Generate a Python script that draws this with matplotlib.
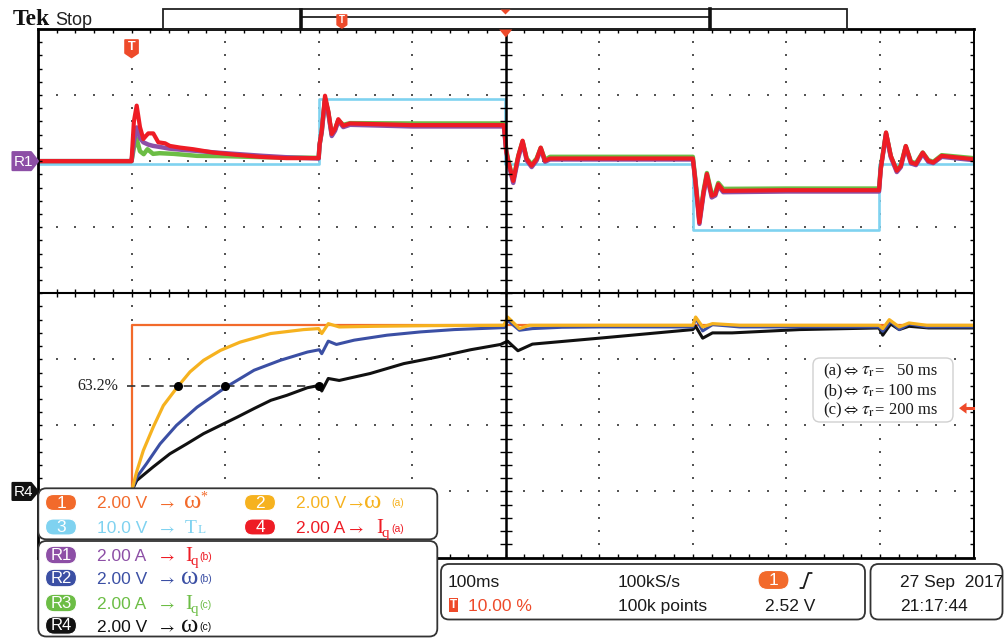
import numpy as np
import matplotlib
matplotlib.use("Agg")
import matplotlib.pyplot as plt
from matplotlib.patches import FancyBboxPatch, Polygon

plt.rcParams['font.family'] = ['Liberation Sans', 'DejaVu Sans']
plt.rcParams['mathtext.fontset'] = 'stix'
UI = ['Liberation Sans', 'DejaVu Sans']
SERIF = ['Liberation Serif', 'DejaVu Serif']

# ---------------- acquisition settings ----------------
TIME_DIV = 100.0                  # ms / div
TRIG_PCT = 10.0                   # trigger position in % of record
T0 = -TRIG_PCT / 100 * 10 * TIME_DIV
T1 = T0 + 10 * TIME_DIV
IQ_SCALE, IQ_POS = 2.0, 2.0       # A/div, position (div)
TL_SCALE, TL_POS = 10.0, 1.96     # V/div
W_SCALE, W_POS = 2.0, -3.0        # V/div
TRIG_LEVEL = 2.52                 # V (channel 1)

# ---------------- load torque T_L (ch3) ----------------
tl_t = [-100, 200.5, 200.5, 399, 399, 600.5, 600.5, 799, 799, 900]
tl_v = [0, 0, 9.8, 9.8, 0, 0, -10.0, -10.0, 0, 0]

# ---------------- q-axis currents (A) ----------------
# start-up part (t <= 200 ms)
iqa_t0 = [-100, -1, 0, 2.5, 5.5, 9, 12.6, 15, 17.9, 23.2, 28.6, 35.8, 41, 51.8, 66, 87.4,
          112.4, 137.3, 165.8, 187.2, 200]
iqa_v0 = [0, 0, 0, 1.2, 1.68, 1.03, 0.67, 0.75, 0.84, 0.84, 0.57, 0.54, 0.46, 0.41, 0.36, 0.26,
          0.19, 0.13, 0.09, 0.09, 0.09]
iqb_t0 = [-100, -1, 0, 2.5, 5.5, 9, 12.6, 17.9, 23.2, 30, 40, 55, 70, 90, 115, 140, 170, 200]
iqb_v0 = [0, 0, 0, 0.6, 1.02, 0.7, 0.57, 0.5, 0.46, 0.43, 0.38, 0.34, 0.31, 0.26, 0.21, 0.16,
          0.11, 0.08]
iqc_t0 = [-100, -1, 0, 2.5, 5.5, 9, 13, 17, 23, 30, 45, 70, 100, 140, 170, 200]
iqc_v0 = [0, 0, 0, 0.4, 0.67, 0.3, 0.21, 0.36, 0.22, 0.24, 0.22, 0.16, 0.15, 0.12, 0.11, 0.1]

# load-change part (t > 200 ms), common sample times
load_t = [201, 203.3, 206.8, 210.3, 214, 217.5, 221, 226.3, 233.5, 300, 398,
          400.5, 402.7, 408, 413.4, 418, 422.4, 427.7, 433, 437.4, 442, 447.3, 500,
          600, 602.3, 604.5, 607, 611.4, 615, 620.2, 624, 627.2, 632.5, 700,
          799, 800.8, 806.5, 811.6, 818, 822.3, 827.6, 833.2, 838.5, 845.7, 851.7, 857, 866, 900]
iqa_v1 = [0.5, 0.92, 1.98, 1.52, 0.82, 0.97, 1.27, 1.07, 1.14, 1.09, 1.09,
          0.3, 0.0, -0.60, 0.16, 0.62, 0.06, -0.14, 0.06, 0.41, 0.01, 0.08, 0.08,
          0.08, -0.5, -1.1, -1.86, -0.95, -0.39, -1.05, -1.0, -0.70, -0.90, -0.88,
          -0.88, -0.25, 0.87, 0.16, -0.29, -0.15, 0.46, -0.04, -0.09, 0.26, 0.01, -0.04, 0.16, 0.06]
iqb_v1 = [0.5, 0.88, 1.86, 1.46, 0.76, 0.92, 1.22, 1.03, 1.1, 1.05, 1.05,
          0.3, -0.05, -0.66, 0.1, 0.56, 0.02, -0.18, 0.02, 0.36, -0.02, 0.05, 0.05,
          0.05, -0.5, -1.15, -1.9, -1.0, -0.45, -1.1, -1.04, -0.75, -0.94, -0.92,
          -0.92, -0.25, 0.82, 0.12, -0.33, -0.18, 0.42, -0.07, -0.12, 0.22, -0.02, -0.06, 0.13, 0.03]
iqc_v1 = [0.5, 0.9, 1.9, 1.48, 0.8, 0.96, 1.24, 1.1, 1.15, 1.14, 1.14,
          0.35, 0.02, -0.58, 0.16, 0.6, 0.08, -0.1, 0.08, 0.4, 0.04, 0.13, 0.13,
          0.13, -0.45, -1.05, -1.8, -0.9, -0.36, -1.0, -0.95, -0.66, -0.84, -0.83,
          -0.83, -0.2, 0.85, 0.15, -0.28, -0.12, 0.45, -0.02, -0.06, 0.26, 0.03, -0.02, 0.18, 0.09]

# ---------------- speeds (V) ----------------
wref_t = [-100, 0, 0, 900]
wref_v = [0, 0, 5.03, 5.03]
wa_t = [-100, 0, 5.5, 12.6, 23.2, 34, 49, 62.5, 77, 95, 116, 148.5, 184, 200, 203.3, 210.3,
        222, 260, 320, 398, 402, 414.6, 425, 450, 550, 600, 603, 610.5, 621, 650, 750, 799,
        803, 810, 820.6, 831, 850, 900]
wa_v = [0, 0, 0.6, 1.24, 1.95, 2.6, 3.16, 3.62, 3.97, 4.27, 4.52, 4.78, 4.90, 4.93, 4.78, 5.08,
        4.98, 5.0, 5.02, 5.03, 5.28, 4.93, 5.03, 5.03, 5.03, 5.03, 5.28, 4.98, 5.08, 5.03, 5.03, 5.03,
        4.93, 5.2, 4.98, 5.1, 5.03, 5.03]
wb_t = [-100, 0, 5.5, 16, 30.5, 48, 70, 101, 131, 159, 188, 200.7, 203.3, 210.3, 219, 238, 273,
        309, 345, 398.5, 402, 414.6, 428.5, 460, 500, 600, 603, 610.5, 621, 650, 799, 803, 811.5,
        820.6, 831, 850, 900]
wb_v = [0, 0, 0.43, 0.84, 1.44, 2.0, 2.55, 3.16, 3.67, 3.97, 4.22, 4.29, 4.17, 4.55, 4.45, 4.58, 4.73,
        4.83, 4.90, 4.96, 5.18, 4.88, 4.93, 4.97, 4.98, 4.98, 5.25, 4.86, 5.05, 4.98, 4.98, 4.85, 5.15,
        4.9, 5.07, 4.98, 4.98]
wc_t = [-100, 0, 5.5, 23, 41, 59, 77, 95, 113, 131, 149, 166, 188, 200.7, 203.3, 210.3, 222, 255,
        291, 327, 362.5, 394.5, 402, 413, 428.5, 500, 600, 603, 610.5, 621, 642, 714, 799, 803,
        811.5, 820.6, 831, 852, 900]
wc_v = [0, 0, 0.33, 0.74, 1.14, 1.44, 1.75, 2.0, 2.25, 2.51, 2.76, 2.91, 3.14, 3.21, 3.04, 3.42, 3.36, 3.57,
        3.87, 4.07, 4.29, 4.45, 4.55, 4.26, 4.46, 4.64, 4.9, 5.0, 4.64, 4.80, 4.80, 4.90, 4.95, 4.73,
        5.07, 4.9, 5.0, 4.95, 4.95]

# time constants and 63.2 % marker
tau_ms = [50, 100, 200]
tau_labels = ['(a)', '(b)', '(c)']
rise_frac = 0.632

# ---------------- colours ----------------
C_ORANGE = '#f26a2b'
C_YELLOW = '#f6b21f'
C_CYAN = '#7fd2f0'
C_RED = '#ee1c25'
C_PURPLE = '#8d4fa6'
C_BLUE = '#3b4fa4'
C_GREEN = '#6cbd45'
C_BLACK = '#111111'
C_TRIG = '#ee4a2a'

W, H = 1005, 638
GX0, GX1, GY0, GY1 = 38.0, 973.5, 29.0, 557.5

fig = plt.figure(figsize=(W / 100, H / 100), dpi=100)
fig.patch.set_facecolor('white')
ax = fig.add_axes([GX0 / W, 1 - GY1 / H, (GX1 - GX0) / W, (GY1 - GY0) / H])
ax.set_xlim(T0, T1)
ax.set_ylim(-4, 4)
ax.set_xticks([])
ax.set_yticks([])
for side, lw in (('top', 2.0), ('left', 2.0), ('right', 1.4), ('bottom', 2.0)):
    ax.spines[side].set_linewidth(lw)
    ax.spines[side].set_color('black')


def px(t, d):
    return (GX0 + (t - T0) / (T1 - T0) * (GX1 - GX0),
            GY0 + (4 - d) / 8 * (GY1 - GY0))


def to_div(v, scale, pos):
    return pos + np.asarray(v, dtype=float) / scale


# ---------------- graticule ----------------
tmid = (T0 + T1) / 2
minor_t = T0 + TIME_DIV / 5 * np.arange(1, 50)
minor_d = -4 + 0.2 * np.arange(1, 40)
gx, gy = [], []
for k in range(1, 10):
    if k == 5:
        continue
    gx += [T0 + k * TIME_DIV] * len(minor_d)
    gy += list(minor_d)
for r in range(-3, 4):
    if r == 0:
        continue
    gx += list(minor_t)
    gy += [r] * len(minor_t)
ax.scatter(gx, gy, s=2.2, marker='s', color='#555555', linewidths=0, zorder=1)

tick_kw = dict(ls='none', color='black', mew=1.0, clip_on=False, zorder=4)
ax.plot(minor_t, [4] * len(minor_t), marker=3, ms=3, **tick_kw)
ax.plot(minor_t, [-4] * len(minor_t), marker=2, ms=3, **tick_kw)
ax.plot([T0] * len(minor_d), minor_d, marker=1, ms=3, **tick_kw)
ax.plot([T1] * len(minor_d), minor_d, marker=0, ms=3, **tick_kw)
ax.plot([tmid] * len(minor_d), minor_d, marker='_', ms=8, **tick_kw)
ax.plot(minor_t, [0] * len(minor_t), marker='|', ms=6, **tick_kw)
ax.plot([tmid, tmid], [-4, 4], color='black', lw=1.8, zorder=4)
ax.plot([T0, T1], [0, 0], color='black', lw=1.5, zorder=4)

# ---------------- upper panel: torque and currents ----------------
ax.plot(tl_t, to_div(tl_v, TL_SCALE, TL_POS), color=C_CYAN, lw=1.9, zorder=2)
ax.plot(np.concatenate([iqc_t0, load_t]), to_div(np.concatenate([iqc_v0, iqc_v1]), IQ_SCALE, IQ_POS),
        color=C_GREEN, lw=3.2, zorder=2.1)
ax.plot(np.concatenate([iqb_t0, load_t]), to_div(np.concatenate([iqb_v0, iqb_v1]), IQ_SCALE, IQ_POS),
        color=C_PURPLE, lw=3.2, zorder=2.2)
ax.plot(np.concatenate([iqa_t0, load_t]), to_div(np.concatenate([iqa_v0, iqa_v1]), IQ_SCALE, IQ_POS),
        color=C_RED, lw=3.0, zorder=2.3)

# ---------------- lower panel: speeds ----------------
ax.plot(wref_t, to_div(wref_v, W_SCALE, W_POS), color=C_ORANGE, lw=1.6, zorder=2)
ax.plot(wc_t, to_div(wc_v, W_SCALE, W_POS), color=C_BLACK, lw=2.2, zorder=2.1)
ax.plot(wb_t, to_div(wb_v, W_SCALE, W_POS), color=C_BLUE, lw=2.2, zorder=2.2)
ax.plot(wa_t, to_div(wa_v, W_SCALE, W_POS), color=C_YELLOW, lw=2.3, zorder=2.3)

# 63.2 % rise markers
lvl = to_div(rise_frac * wref_v[-1], W_SCALE, W_POS)
ax.plot([-5, 190], [lvl, lvl], color='#333333', lw=1.2, dashes=(5, 3.5), zorder=3)
ax.scatter(tau_ms, [lvl] * len(tau_ms), s=30, color='black', zorder=3.5)
ax.text(-14, lvl, f'{rise_frac * 100:.1f}%', family=SERIF, fontsize=11.5,
        ha='right', va='center', color='#222222', zorder=5)

# ---------------- overlay (screen furniture) ----------------
ov = fig.add_axes([0, 0, 1, 1], zorder=5)
ov.set_xlim(0, W)
ov.set_ylim(H, 0)
ov.axis('off')
ov.patch.set_alpha(0)


def txt(x, y, s, color='#1a1a1a', size=12.5, family=UI, **kw):
    ov.text(x, y, s, color=color, fontsize=size, family=family, ha=kw.pop('ha', 'left'),
            va=kw.pop('va', 'baseline'), zorder=kw.pop('zorder', 8), **kw)


def pill(xc, yc, w, h, color, label, size=12.5):
    ov.add_patch(FancyBboxPatch((xc - w / 2, yc - h / 2), w, h,
                                boxstyle=f"round,pad=0,rounding_size={h / 2}",
                                fc=color, ec='white', lw=0.8, zorder=6))
    ov.text(xc, yc + 0.5, label, color='white', fontsize=size, family=UI,
            ha='center', va='center', zorder=7)


def rbox(x, y, w, h, ec='#333333', lw=1.3, r=8):
    ov.add_patch(FancyBboxPatch((x, y), w, h, boxstyle=f"round,pad=0,rounding_size={r}",
                                fc='white', ec=ec, lw=lw, zorder=5))


def shield(xc, ytop, w, h, label, size):
    pts = [(xc - w / 2, ytop), (xc + w / 2, ytop), (xc + w / 2, ytop + h * 0.75),
           (xc, ytop + h), (xc - w / 2, ytop + h * 0.75)]
    ov.add_patch(Polygon(pts, closed=True, fc=C_TRIG, ec=C_TRIG, lw=1.2, joinstyle='round', zorder=6))
    ov.text(xc, ytop + h * 0.42, label, color='white', fontsize=size, fontweight='bold',
            family=UI, ha='center', va='center', zorder=7)


def arrow(x, yb, color):
    txt(x, yb, r'$\rightarrow$', color=color, size=11.5)


# header
txt(13, 25, 'Tek', size=17, family=SERIF, fontweight='bold', color='#111111')
txt(55, 25, 'Stop', size=13, color='#222222')
ov.add_patch(plt.Rectangle((163, 8.5), 684, 20, fc='none', ec='#222222', lw=1.3, zorder=6))
ov.plot([301, 710], [17.3, 17.3], color='#222222', lw=1.3, zorder=6)
ov.plot([301, 301], [9.5, 28], color='#111111', lw=2.6, zorder=6)
ov.plot([710, 710], [8.5, 28.5], color='#111111', lw=2.6, zorder=6)
rec_x0, rec_x1 = 301, 710
shield(rec_x0 + TRIG_PCT / 100 * (rec_x1 - rec_x0), 15, 9.5, 13, 'T', 7)
ov.add_patch(Polygon([((rec_x0 + rec_x1) / 2 - 5, 9.5), ((rec_x0 + rec_x1) / 2 + 5, 9.5),
                      ((rec_x0 + rec_x1) / 2, 14.5)], fc=C_TRIG, ec='none', zorder=7))

# trigger position / centre markers on the graticule
xt, _ = px(0, 0)
shield(xt, 40, 13, 17.5, 'T', 9)
xc, _ = px(tmid, 0)
ov.add_patch(Polygon([(xc - 6.5, 29.5), (xc + 6.5, 29.5), (xc, 37.5)], fc=C_TRIG, ec='none', zorder=7))

# trigger level arrow
_, yl = px(0, W_POS + TRIG_LEVEL / W_SCALE)
ov.add_patch(Polygon([(959, yl), (966.5, yl - 5.5), (966.5, yl + 5.5)], fc=C_TRIG, ec='none', zorder=7))
ov.plot([966, 973], [yl, yl], color=C_TRIG, lw=2.2, zorder=7)

# reference markers on the left edge
for lab, pos, col in (('R1', IQ_POS, C_PURPLE), ('R4', W_POS, '#111111')):
    _, yr = px(0, pos)
    hh = 9 if lab == 'R1' else 8.5
    ov.add_patch(Polygon([(12.5, yr - hh), (31, yr - hh), (38, yr), (31, yr + hh), (12.5, yr + hh)],
                         closed=True, fc=col, ec=col, lw=1.5, joinstyle='round', zorder=6))
    ov.text(23.5, yr + 0.5, lab, color='white', fontsize=11, family=UI, ha='center', va='center', zorder=7)

# channel legend
rbox(38.3, 488.3, 399, 51)
rbox(38.3, 541, 399, 95.5)
ch_labels = ['1', '2', '3', '4']
ch_scales = ['2.00 V', '2.00 V', '10.0 V', '2.00 A']
ch_colors = [C_ORANGE, C_YELLOW, C_CYAN, C_RED]
ref_labels = ['R1', 'R2', 'R3', 'R4']
ref_scales = ['2.00 A', '2.00 V', '2.00 A', '2.00 V']
ref_colors = [C_PURPLE, C_BLUE, C_GREEN, C_BLACK]

ch_rows = [(502.5, 508), (502.5, 508), (527, 533), (527, 533)]
ch_cols = [61, 260, 61, 260]
for i in range(4):
    yc, yb = ch_rows[i]
    x0 = ch_cols[i]
    pill(x0, yc, 31, 16, ch_colors[i], ch_labels[i])
    txt(x0 + 36, yb, ch_scales[i], color=ch_colors[i])

OMEGA = 19
# channel 1: speed reference
arrow(157, 508, C_ORANGE)
txt(184, 508, 'ω', color=C_ORANGE, size=OMEGA, family=SERIF)
txt(200, 501, '*', color=C_ORANGE, size=10, family=SERIF)
# channel 2: speed (a)
arrow(346, 508, C_YELLOW)
txt(364, 508, 'ω', color=C_YELLOW, size=OMEGA, family=SERIF)
txt(391, 506.5, tau_labels[0], color=C_YELLOW, size=7.5)
# channel 3: load torque
arrow(157, 533, C_CYAN)
txt(185, 533, 'T', color=C_CYAN, size=14, family=SERIF)
txt(197.5, 533, 'L', color=C_CYAN, size=9.5, family=SERIF)
# channel 4: current (a)
arrow(346, 533, C_RED)
txt(376, 533, 'I', color=C_RED, size=15, family=SERIF)
txt(381.5, 537, 'q', color=C_RED, size=11, family=SERIF)
txt(391, 531.5, tau_labels[0], color=C_RED, size=7.5)

ref_rows = [(555, 561), (578, 584), (603, 609), (625.5, 632)]
for i in range(4):
    yc, yb = ref_rows[i]
    pill(61, yc, 31, 17.5, ref_colors[i], ref_labels[i], size=12)
    txt(97, yb, ref_scales[i], color=ref_colors[i])
    sig_col = C_RED if i == 0 else ref_colors[i]
    arrow(157, yb, sig_col)
    lab = tau_labels[1] if i < 2 else tau_labels[2]
    if i % 2 == 0:
        txt(185, yb, 'I', color=sig_col, size=15, family=SERIF)
        txt(190.5, yb + 4, 'q', color=sig_col, size=11, family=SERIF)
    else:
        txt(181, yb, 'ω', color=sig_col, size=OMEGA, family=SERIF)
    txt(199.5, yb - 1.5, lab, color=sig_col, size=7.5)

# acquisition / date boxes
rbox(441, 564, 424, 55.5)
rbox(870.5, 564, 132, 55.5)
txt(448, 587, f'{TIME_DIV:.0f}ms')
ov.add_patch(plt.Rectangle((448.5, 597.5), 9.5, 14, fc=C_TRIG, ec='none', zorder=6))
ov.text(453.3, 604.8, 'T', color='white', fontsize=8.5, fontweight='bold', family=UI,
        ha='center', va='center', zorder=7)
txt(468.5, 611, f'{TRIG_PCT:.2f} %', color=C_TRIG)
txt(618, 587, '100kS/s')
txt(618, 611, '100k points')
pill(773.5, 580, 31, 19, C_ORANGE, '1')
ov.plot([800.5, 803.5, 808.5, 811.5], [588, 588, 573, 573], color='#1a1a1a', lw=1.3, zorder=7)
txt(765, 611, f'{TRIG_LEVEL:.2f} V')
txt(900, 587, '27 Sep  2017')
txt(900, 611, '21:17:44')

# time-constant legend
rbox(813, 358, 140, 64, ec='#d0d0d0', lw=1.0, r=7)
tau_rows = [375, 395, 414.5]
for lab, tau, yb in zip(tau_labels, tau_ms, tau_rows):
    txt(823, yb, lab, size=12, family=SERIF)
    txt(841, yb, r'$\Leftrightarrow$', size=11, family=SERIF)
    txt(861, yb, r'$\tau_{\mathrm{r}}$', size=13, family=SERIF)
    txt(874, yb, '=', size=12, family=SERIF)
    txt(937, yb, f'{tau} ms', size=12, family=SERIF, ha='right')

fig.savefig('out.png', dpi=100)
